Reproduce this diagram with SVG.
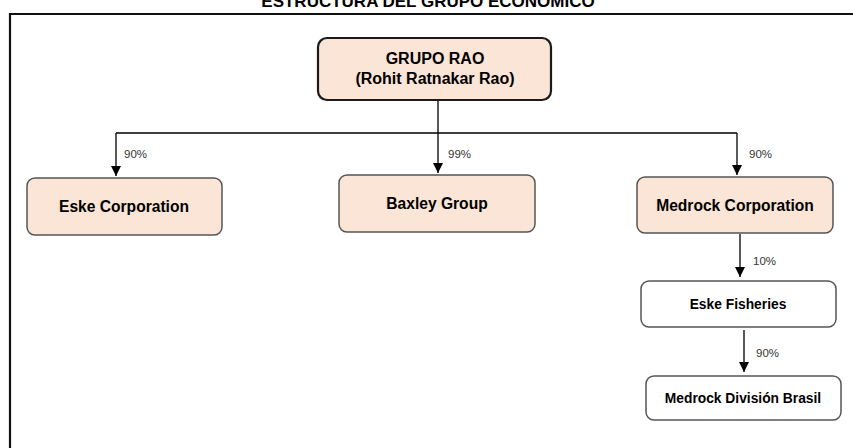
<svg xmlns="http://www.w3.org/2000/svg" width="853" height="448" viewBox="0 0 853 448">
<defs>
<marker id="ah" viewBox="0 0 10 10" refX="10" refY="5" markerWidth="10" markerHeight="10" markerUnits="userSpaceOnUse" orient="auto">
<path d="M0,0 L10,5 L0,10 z" fill="#000"/>
</marker>
<style>
.t{font-family:"Liberation Sans",Arial,sans-serif;font-weight:bold;fill:#000;text-anchor:middle}
.p{font-family:"Liberation Sans",Arial,sans-serif;font-size:11.5px;fill:#333}
.peach{fill:#FBE5D6;stroke:#555;stroke-width:1.5}
.white{fill:#fff;stroke:#555;stroke-width:1.5}
.c{fill:none;stroke:#000;stroke-width:1.3}
</style>
</defs>
<rect width="853" height="448" fill="#fff"/>
<text class="t" x="428" y="7" font-size="17">ESTRUCTURA DEL GRUPO ECONÓMICO</text>
<path d="M10,448 V14 H853" fill="none" stroke="#111" stroke-width="2.2"/>
<g id="connectors">
<path class="c" d="M438,100 V133 M116,133 H737"/>
<path class="c" d="M116,133 V176" marker-end="url(#ah)"/>
<path class="c" d="M438,133 V173" marker-end="url(#ah)"/>
<path class="c" d="M737,133 V175" marker-end="url(#ah)"/>
<path class="c" d="M740,234 V277" marker-end="url(#ah)"/>
<path class="c" d="M744,330 V372" marker-end="url(#ah)"/>
<text class="p" x="124" y="158">90%</text>
<text class="p" x="448" y="158">99%</text>
<text class="p" x="749" y="158">90%</text>
<text class="p" x="753" y="265">10%</text>
<text class="p" x="756" y="357">90%</text>
</g>
<g id="grupo-rao">
<rect x="318" y="38" width="233" height="62" rx="9" fill="#FBE5D6" stroke="#1a1a1a" stroke-width="2.2"/>
<text class="t" x="435" y="64" font-size="16">GRUPO RAO</text>
<text class="t" x="435" y="84" font-size="16">(Rohit Ratnakar Rao)</text>
</g>
<g id="eske-corporation">
<rect class="peach" x="27" y="178" width="195" height="57" rx="8"/>
<text class="t" x="124" y="212" font-size="15.6">Eske Corporation</text>
</g>
<g id="baxley-group">
<rect class="peach" x="339" y="175" width="196" height="57" rx="8"/>
<text class="t" x="437" y="209" font-size="15.6">Baxley Group</text>
</g>
<g id="medrock-corporation">
<rect class="peach" x="637" y="177" width="196" height="56" rx="8"/>
<text class="t" x="735" y="211" font-size="15.6">Medrock Corporation</text>
</g>
<g id="eske-fisheries">
<rect class="white" x="641" y="281" width="195" height="46" rx="8"/>
<text class="t" x="738" y="309" font-size="13.8">Eske Fisheries</text>
</g>
<g id="medrock-division-brasil">
<rect class="white" x="646" y="376" width="195" height="44" rx="8"/>
<text class="t" x="743" y="403" font-size="13.8">Medrock División Brasil</text>
</g>
</svg>
